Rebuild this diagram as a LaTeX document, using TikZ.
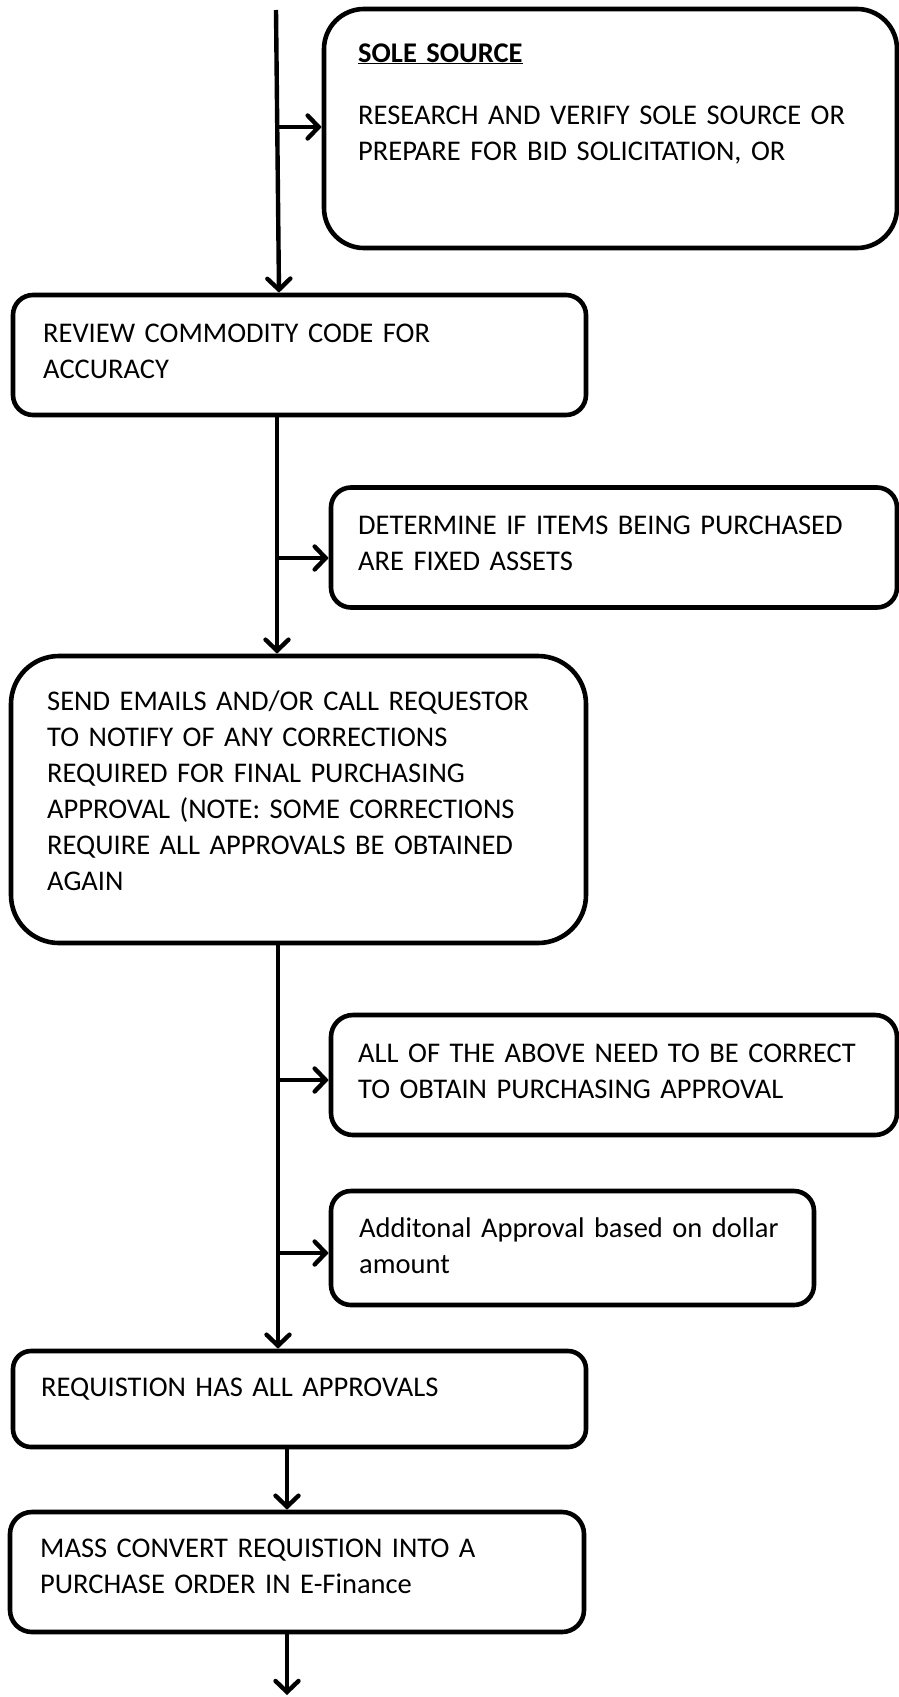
\documentclass[tikz,border=0pt]{standalone}
\usepackage{fontspec}
\setmainfont{Carlito}
\usetikzlibrary{arrows.meta}
\tikzset{
  box/.style={draw=black, line width=4.6pt, rectangle},
  txt/.style={anchor=base west, inner sep=0pt, text width=520pt, align=left,
    font=\fontsize{28.5}{36}\selectfont},
  conn/.style={draw=black, line width=4.4pt, -{Straight Barb[length=11pt,width=23pt,line width=4.4pt,line cap=round]}},
}
\begin{document}
\begin{tikzpicture}[x=1pt,y=-1pt]
\useasboundingbox (0,0) rectangle (899,1697);
% boxes
\node[box, rounded corners=40pt, minimum width=573pt, minimum height=239pt] (ss) at (610.5,128.5) {};
\node[box, rounded corners=20pt, minimum width=573pt, minimum height=120pt] (rev) at (299.5,355) {};
\node[box, rounded corners=20pt, minimum width=566pt, minimum height=120pt] (det) at (614,547.5) {};
\node[box, rounded corners=48pt, minimum width=575pt, minimum height=287pt] (send) at (298.5,799.5) {};
\node[box, rounded corners=22pt, minimum width=566pt, minimum height=120pt] (all) at (614,1075) {};
\node[box, rounded corners=20pt, minimum width=483pt, minimum height=114pt] (add) at (572.5,1248) {};
\node[box, rounded corners=18pt, minimum width=573pt, minimum height=96pt] (req) at (299.5,1399) {};
\node[box, rounded corners=22pt, minimum width=574pt, minimum height=120pt] (mass) at (297,1572) {};
% texts
\node[txt] (tss) at (358,62) {\textbf{\underline{SOLE SOURCE}}\\[26pt]RESEARCH AND VERIFY SOLE SOURCE OR\\PREPARE FOR BID SOLICITATION, OR};
\node[txt] (trev) at (43,342) {REVIEW COMMODITY CODE FOR\\ACCURACY};
\node[txt] (tdet) at (358,534) {DETERMINE IF ITEMS BEING PURCHASED\\ARE FIXED ASSETS};
\node[txt] (tsend) at (47,710) {SEND EMAILS AND/OR CALL REQUESTOR\\TO NOTIFY OF ANY CORRECTIONS\\REQUIRED FOR FINAL PURCHASING\\APPROVAL (NOTE: SOME CORRECTIONS\\REQUIRE ALL APPROVALS BE OBTAINED\\AGAIN};
\node[txt] (tall) at (358,1062) {ALL OF THE ABOVE NEED TO BE CORRECT\\TO OBTAIN PURCHASING APPROVAL};
\node[txt] (tadd) at (359,1237) {Additonal Approval based on dollar\\amount};
\node[txt] (treq) at (41,1396) {REQUISTION HAS ALL APPROVALS};
\node[txt] (tmass) at (40,1557) {MASS CONVERT REQUISTION INTO A\\PURCHASE ORDER IN E-Finance};
% coordinates
\coordinate (top) at (276,10);
\coordinate (b1) at (277.5,127);
\coordinate (b2) at (277,558);
\coordinate (b3) at (278,1080);
\coordinate (b4) at (278,1253);
\coordinate (end) at (287,1695);
% connectors
\draw[conn] (top) -- (279,0 |- rev.north);
\draw[conn] (b1) -- (ss.west |- b1);
\draw[conn] (277,0 |- rev.south) -- (277,0 |- send.north);
\draw[conn] (b2) -- (det.west |- b2);
\draw[conn] (278,0 |- send.south) -- (278,0 |- req.north);
\draw[conn] (b3) -- (all.west |- b3);
\draw[conn] (b4) -- (add.west |- b4);
\draw[conn] (287,0 |- req.south) -- (287,0 |- mass.north);
\draw[conn] (287,0 |- mass.south) -- (end);
\end{tikzpicture}
\end{document}
